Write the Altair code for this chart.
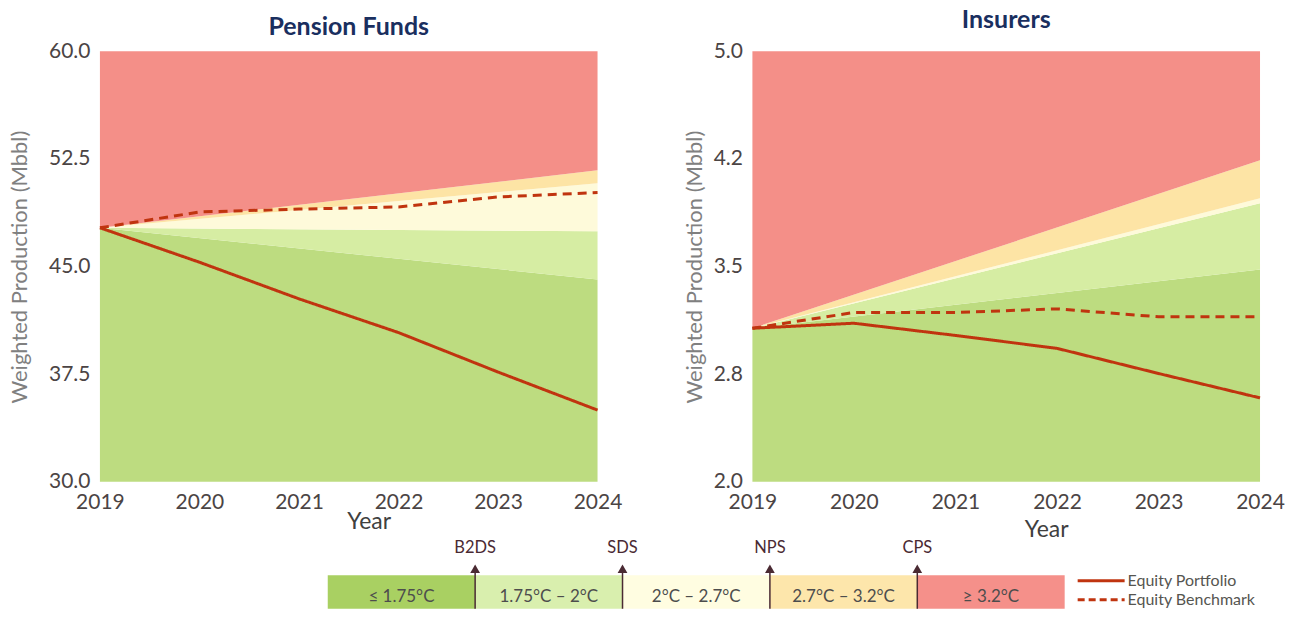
import altair as alt
import pandas as pd

# ---------------- data ----------------
YEARS = [2019, 2020, 2021, 2022, 2023, 2024]
BAND_YEARS = [2019, 2024]
BANDS = ["≤ 1.75°C", "1.75°C – 2°C", "2°C – 2.7°C", "2.7°C – 3.2°C", "≥ 3.2°C"]
BAND_COLORS = ["#bddc80", "#d6eda3", "#fefada", "#fde4a5", "#f48f88"]
LEGEND_COLORS = ["#a9d062", "#d9efae", "#fffde1", "#fde6ab", "#f5908a"]
SCENARIOS = ["B2DS", "SDS", "NPS", "CPS"]
SERIES = ["Equity Portfolio", "Equity Benchmark"]

# Pension Funds (band boundaries from bottom to top)
PF_BOUND_2019 = [30.0, 47.7, 47.7, 47.7, 47.7, 60.0]
PF_BOUND_2024 = [30.0, 44.1, 47.45, 50.8, 51.7, 60.0]
PF_PORTFOLIO = [47.7, 45.3, 42.75, 40.4, 37.65, 35.0]
PF_BENCHMARK = [47.7, 48.8, 49.0, 49.15, 49.85, 50.15]
PF_TICKS = [30.0, 37.5, 45.0, 52.5, 60.0]
PF_TICK_LABELS = ["30.0", "37.5", "45.0", "52.5", "60.0"]

# Insurers
INS_BOUND_2019 = [2.0, 3.07, 3.07, 3.07, 3.07, 5.0]
INS_BOUND_2024 = [2.0, 3.48, 3.94, 3.975, 4.24, 5.0]
INS_PORTFOLIO = [3.07, 3.105, 3.02, 2.93, 2.755, 2.585]
INS_BENCHMARK = [3.07, 3.18, 3.18, 3.205, 3.15, 3.15]
INS_TICKS = [2.0, 2.75, 3.5, 4.25, 5.0]
INS_TICK_LABELS = ["2.0", "2.8", "3.5", "4.2", "5.0"]

FONT = "Lato"
LINE_COLOR = "#c0340f"
ARROW_COLOR = "#4a2a33"


def label_expr(ticks, labels):
    expr = "''"
    for t, l in zip(ticks, labels):
        expr = f"abs(datum.value - {t}) < 1e-6 ? '{l}' : ({expr})"
    return expr


def panel_core(b19, b24, port, bench, ticks, labels, ytitle_pad, xtitle_x, xtitle_y):
    rows = []
    for i, band in enumerate(BANDS):
        for yr, b in zip(BAND_YEARS, [b19, b24]):
            rows.append({"year": yr, "band": band, "lo": b[i], "hi": b[i + 1]})
    band_df = pd.DataFrame(rows)
    lrows = []
    for s, vals in zip(SERIES, [port, bench]):
        for yr, v in zip(YEARS, vals):
            lrows.append({"series": s, "year": yr, "value": v})
    line_df = pd.DataFrame(lrows)

    xs = alt.Scale(domain=[YEARS[0], YEARS[-1]], nice=False, zero=False)
    ys = alt.Scale(domain=[ticks[0], ticks[-1]], nice=False, zero=False)
    xaxis = alt.Axis(values=YEARS, format="d", title="Year", labelFlush=False,
                     labelOverlap=False, labelPadding=10, titleX=xtitle_x,
                     titleY=xtitle_y, titleBaseline="alphabetic",
                     labelFontSize=21, titleFontSize=23, titleColor="#404040",
                     titleFontWeight="normal")
    yaxis = alt.Axis(values=ticks, labelExpr=label_expr(ticks, labels),
                     title="Weighted Production (Mbbl)", labelPadding=10,
                     titlePadding=ytitle_pad, labelFontSize=21, titleFontSize=22,
                     titleColor="#808080", titleFontWeight="normal",
                     labelOverlap=False)

    bands = alt.Chart(band_df).mark_area(opacity=1).encode(
        x=alt.X("year:Q", scale=xs, axis=xaxis),
        y=alt.Y("lo:Q", scale=ys, axis=yaxis, stack=None),
        y2="hi:Q",
        color=alt.Color("band:N", scale=alt.Scale(domain=BANDS, range=BAND_COLORS),
                        legend=None),
    )
    lines = alt.Chart(line_df).mark_line(color=LINE_COLOR, strokeWidth=3).encode(
        x="year:Q",
        y="value:Q",
        strokeDash=alt.StrokeDash("series:N",
                                  scale=alt.Scale(domain=SERIES, range=[[1, 0], [9, 6]]),
                                  legend=None),
    )
    return alt.layer(bands, lines)


def title(text, offset):
    return alt.TitleParams(text, fontSize=25, font=FONT, fontWeight="bold",
                           color="#1a2f5f", offset=offset, anchor="middle")


# ---------------- legend (drawn below the panels, relative to left plot) ----------------
leg_df = pd.DataFrame({"band": BANDS, "color": LEGEND_COLORS})
scen_df = pd.DataFrame({"scenario": SCENARIOS, "band": BANDS[1:]})
ser_df = pd.DataFrame({"series": SERIES})

bscale = alt.Scale(domain=BANDS, range=[228, 965.5], paddingInner=0, paddingOuter=0)
sscale = alt.Scale(type="point", domain=SERIES, range=[530, 549], padding=0)

bars = alt.Chart(leg_df).mark_rect().encode(
    x=alt.X("band:N", scale=bscale, axis=None),
    y=alt.value(524.5), y2=alt.value(558),
    color=alt.Color("color:N", scale=None),
)
bar_text = alt.Chart(leg_df).mark_text(fontSize=17, font=FONT, color="#4d4d4d").encode(
    x=alt.X("band:N", scale=bscale, axis=None),
    y=alt.value(546), text="band:N",
)
rules = alt.Chart(scen_df).mark_rule(color=ARROW_COLOR, strokeWidth=1.5).encode(
    x=alt.X("band:N", scale=bscale, axis=None, bandPosition=0),
    y=alt.value(516), y2=alt.value(558),
)
heads = alt.Chart(scen_df).mark_point(shape="triangle-up", filled=True, size=95,
                                      color=ARROW_COLOR, opacity=1).encode(
    x=alt.X("band:N", scale=bscale, axis=None, bandPosition=0),
    y=alt.value(518),
)
scen_text = alt.Chart(scen_df).mark_text(fontSize=16.5, font=FONT, color=ARROW_COLOR).encode(
    x=alt.X("band:N", scale=bscale, axis=None, bandPosition=0),
    y=alt.value(497), text="scenario:N",
)
ser_lines = alt.Chart(ser_df).mark_rule(color=LINE_COLOR, strokeWidth=3).encode(
    x=alt.value(978.5), x2=alt.value(1025.5),
    y=alt.Y("series:N", scale=sscale, axis=None),
    strokeDash=alt.StrokeDash("series:N",
                              scale=alt.Scale(domain=SERIES, range=[[1, 0], [7, 4]]),
                              legend=None),
)
ser_text = alt.Chart(ser_df).mark_text(fontSize=16, font=FONT, color="#555550",
                                       align="left").encode(
    x=alt.value(1028.5),
    y=alt.Y("series:N", scale=sscale, axis=None),
    text="series:N",
)
legend = alt.layer(bars, bar_text, rules, heads, scen_text, ser_lines, ser_text)

left = alt.layer(
    panel_core(PF_BOUND_2019, PF_BOUND_2024, PF_PORTFOLIO, PF_BENCHMARK,
               PF_TICKS, PF_TICK_LABELS, 17, 269, 47),
    legend,
).resolve_scale(x="independent", y="independent", strokeDash="independent").properties(
    width=498, height=431, title=title("Pension Funds", 0)
)
right = panel_core(INS_BOUND_2019, INS_BOUND_2024, INS_PORTFOLIO, INS_BENCHMARK,
                   INS_TICKS, INS_TICK_LABELS, 7, 294, 55).properties(
    width=508, height=431, title=title("Insurers", 7)
)

chart = alt.hconcat(left, right, spacing=155, bounds="flush").properties(
    padding={"left": 0, "top": 0, "right": 0, "bottom": 0}
).configure_view(stroke=None).configure_axis(
    domain=False, ticks=False, grid=False, labelFont=FONT, titleFont=FONT,
    labelColor="#4b4444",
)

chart.save("out.html", embed_options={"renderer": "svg", "actions": False})
